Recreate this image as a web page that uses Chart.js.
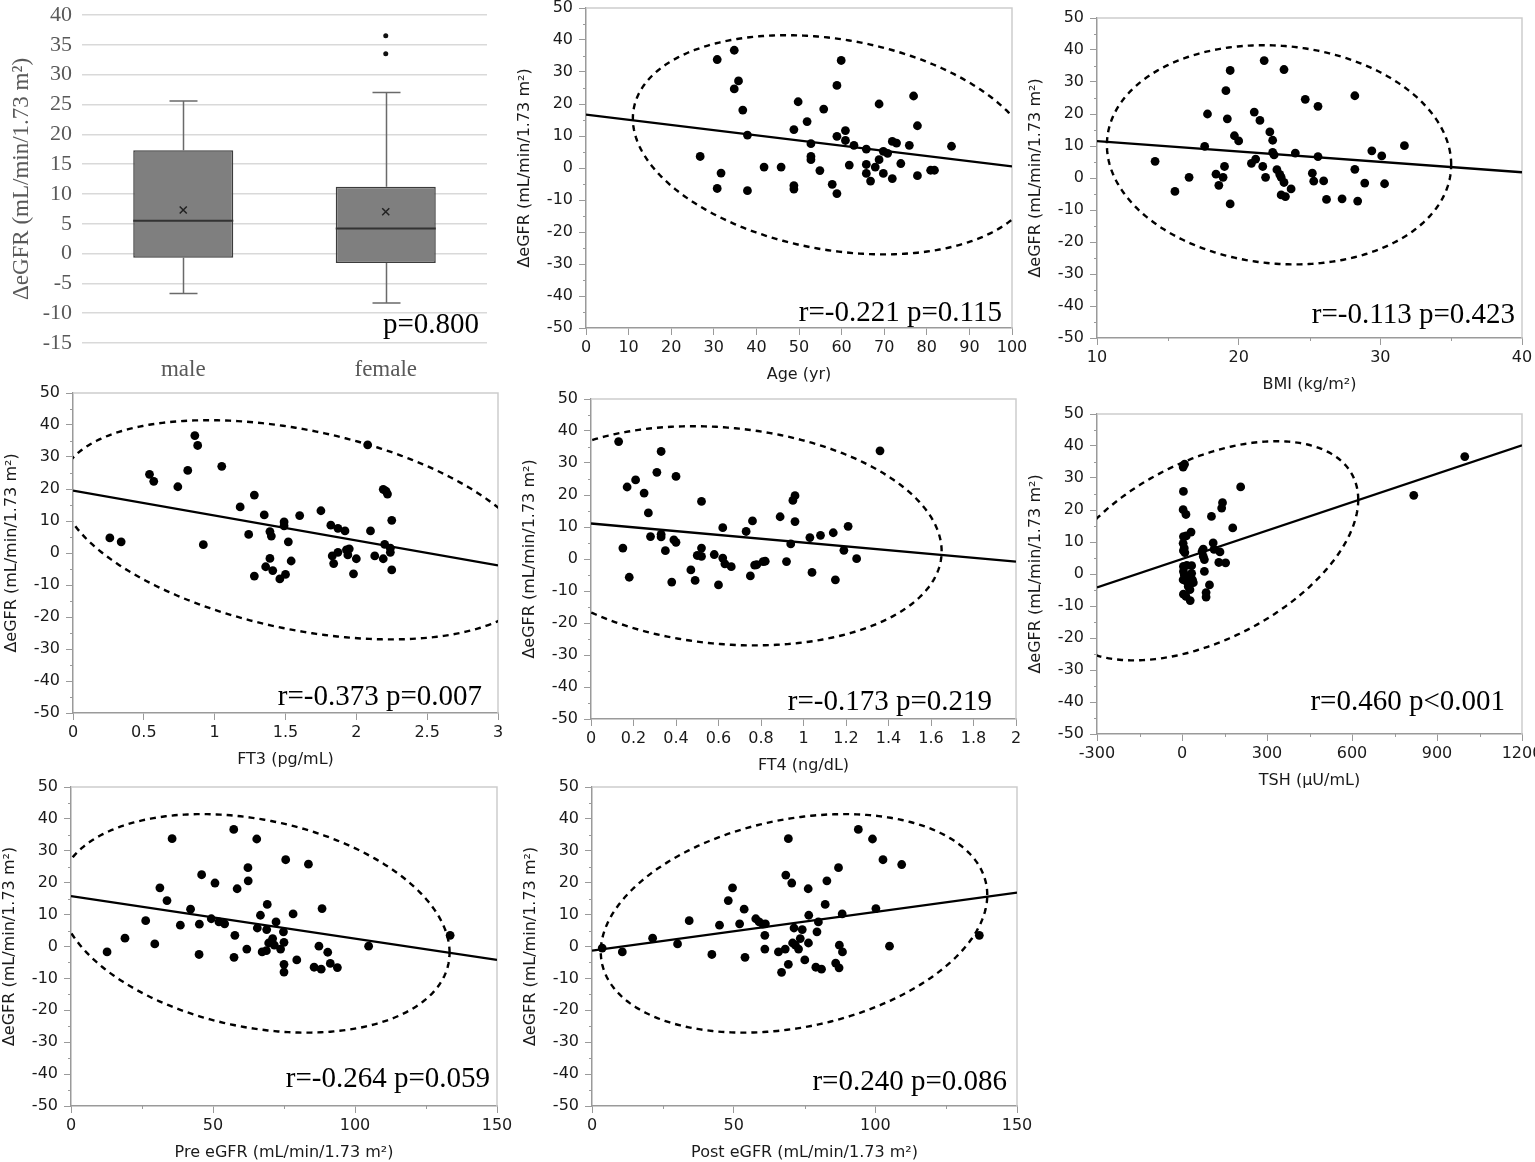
<!DOCTYPE html>
<html>
<head>
<meta charset="utf-8">
<title>ΔeGFR vs clinical parameters</title>
<script src="https://cdn.jsdelivr.net/npm/chart.js@4.4.0/dist/chart.umd.min.js"></script>
<style>
  html, body { margin: 0; padding: 0; background: #fff; }
  body { width: 1535px; height: 1162px; overflow: hidden; position: relative; }
  canvas { position: absolute; }
</style>
</head>
<body>
<script>
// ---- box plot: ΔeGFR by sex ----
const sexLabels = ['male', 'female'];
const boxMin = [-6.7, -8.3];
const boxQ1 = [-0.7, -1.6];
const boxMedian = [5.5, 4.2];
const boxQ3 = [17.3, 11.2];
const boxMax = [25.6, 27.0];
const boxMean = [7.3, 7.0];
const femaleOutliers = [33.5, 36.5];

// ---- scatter panels (x values, ΔeGFR values, fit line ends, 95% ellipse [cx, cy, rx, ry, cos(phase)]) ----
const ageX = [30.8,34.8,35.8,34.8,36.8,37.9,26.8,30.8,31.7,37.9,41.8,45.8,48.8,48.8,48.8,49.8,51.9,52.8,52.8,52.8,54.9,55.8,57.8,58.9,58.9,58.9,59.9,60.9,60.9,61.8,62.9,65.8,65.8,65.8,66.8,67.9,68.8,68.8,69.8,69.8,70.8,71.9,71.9,72.9,73.9,75.9,76.9,77.8,77.8,80.9,81.8,85.8];
const ageY = [33.9,36.8,27.2,24.7,18.1,10.3,3.6,-6.4,-1.6,-7.1,0.3,0.3,12.0,-5.5,-6.6,20.7,14.5,7.6,3.6,2.6,-0.8,18.4,-5.1,-8.0,25.8,9.9,33.6,11.7,8.6,0.9,7.1,5.9,1.1,-1.7,-4.1,0.3,20.0,2.6,5.2,-1.7,4.6,8.3,-3.3,7.8,1.4,7.1,22.5,13.2,-2.4,-0.7,-0.7,6.8];
const ageFit = [[0, 16.7], [100, 0.5]];
const ageEllipse = [58.5, 7.25, 47.5, 34.25, -0.24];

const bmiX = [14.1,15.5,16.5,17.6,17.8,18.4,18.6,18.9,19.0,19.1,19.2,19.4,19.4,19.7,20.0,20.9,21.1,21.2,21.5,21.7,21.8,21.9,22.2,22.4,22.4,22.5,22.7,22.9,23.0,23.0,23.2,23.2,23.3,23.7,24.0,24.7,25.2,25.3,25.6,25.6,26.0,26.2,27.3,28.2,28.2,28.4,28.9,29.4,30.1,30.3,31.7];
const bmiY = [5.2,-4.2,0.2,9.9,20.0,1.2,-2.3,0.2,3.6,27.3,18.5,33.6,-8.1,13.2,11.6,4.6,20.6,5.9,18.0,3.6,36.7,0.2,14.4,11.8,8.0,7.2,2.6,1.1,0.2,-5.3,-1.4,33.9,-5.8,-3.4,7.8,24.6,1.5,-1.0,22.4,6.7,-0.9,-6.7,-6.5,25.7,2.7,-7.2,-1.6,8.5,6.9,-1.8,10.1];
const bmiFit = [[10, 11.5], [40, 1.8]];
const bmiEllipse = [22.85, 7.25, 12.15, 34.25, -0.09];

const ft3X = [0.26,0.34,0.54,0.57,0.74,0.81,0.86,0.88,0.92,1.05,1.18,1.24,1.28,1.28,1.35,1.36,1.39,1.39,1.40,1.41,1.46,1.49,1.49,1.50,1.52,1.54,1.60,1.75,1.82,1.83,1.84,1.87,1.87,1.92,1.93,1.94,1.95,1.98,2.00,2.08,2.10,2.13,2.19,2.19,2.20,2.21,2.22,2.24,2.24,2.25,2.25];
const ft3Y = [4.7,3.5,24.6,22.4,20.7,25.8,36.7,33.6,2.6,27.1,14.4,5.8,18.1,-7.2,11.9,-4.3,6.7,-1.7,5.3,-5.5,-8.1,9.7,8.5,-6.7,3.5,-2.5,11.7,13.2,8.7,-0.9,-3.3,7.7,0.2,6.9,1.0,-0.6,1.3,-6.5,-1.8,33.8,6.9,-0.9,19.9,-1.8,2.7,19.3,18.4,0.2,1.5,10.2,-5.3];
const ft3Fit = [[0, 19.5], [3, -3.9]];
const ft3Ellipse = [1.6, 7.25, 1.69, 34.25, -0.38];

const ft4X = [0.13,0.15,0.17,0.18,0.21,0.25,0.27,0.28,0.31,0.33,0.33,0.33,0.35,0.38,0.39,0.40,0.40,0.47,0.49,0.50,0.52,0.52,0.52,0.58,0.60,0.62,0.62,0.63,0.66,0.73,0.75,0.76,0.77,0.78,0.81,0.82,0.89,0.92,0.94,0.95,0.96,0.96,1.03,1.04,1.08,1.14,1.15,1.19,1.21,1.25,1.36];
const ft4Y = [36.7,3.4,22.5,-5.7,24.7,20.6,14.4,7.0,27.1,33.6,7.7,6.9,2.6,-7.2,6.0,25.8,5.2,-3.4,-6.7,1.1,18.0,3.4,0.8,1.4,-8.1,9.8,0.3,-1.5,-2.4,8.6,-5.3,11.9,-1.9,-1.8,-0.8,-0.7,13.2,-0.8,4.7,18.3,19.8,11.7,6.7,-4.2,7.4,8.2,-6.5,2.7,10.2,0.1,33.8];
const ft4Fit = [[0, 11.1], [2, -0.8]];
const ft4Ellipse = [0.625, 7.25, 1.025, 34.25, -0.141];

const tshX = [4,9,5,4,14,32,5,15,4,8,10,5,75,71,75,79,110,113,134,130,154,104,143,140,179,207,5,17,34,5,8,22,34,4,20,37,79,97,22,28,5,14,29,85,85,12,40,818,998];
const tshY = [33.4,34.3,25.8,20.1,18.6,13.1,11.7,11.9,9.6,8.1,6.7,7.3,7.8,7.1,5.5,4.5,9.7,7.7,6.9,3.6,3.5,18.0,22.3,20.6,14.4,27.2,2.4,2.7,2.6,0.8,-0.2,-0.8,0.2,-1.8,-2.8,-1.8,0.8,-3.4,-3.9,-4.9,-6.3,-7.0,-8.3,-5.8,-7.2,-1.3,-2.7,24.6,36.7];
const tshFit = [[-300, -4.2], [1200, 40.2]];
const tshEllipse = [81.5, 7.25, 540.5, 34.25, 0.467];

const preX = [12.7,19.0,26.3,29.5,31.3,33.8,35.6,38.5,42.1,45.2,45.1,46.0,49.4,50.7,52.1,54.1,57.3,57.7,57.4,58.5,61.9,62.3,62.4,65.4,65.6,66.7,67.3,68.8,68.9,69.1,69.6,71.0,71.6,72.2,73.8,74.8,75.0,75.0,75.0,75.6,78.2,79.5,83.6,85.6,87.3,88.1,88.4,90.4,91.3,93.8,104.8,133.5];
const preY = [-1.7,2.6,8.1,0.8,18.4,14.4,33.8,6.7,11.7,7.0,-2.5,22.5,8.7,19.9,7.7,7.1,36.7,3.5,-3.4,18.1,-0.8,24.7,20.6,33.7,5.8,9.8,-1.7,-1.3,5.3,13.2,1.1,2.5,0.4,7.7,-0.8,4.6,1.3,-5.6,-8.0,27.2,10.2,-4.2,25.8,-6.5,0.1,-7.1,11.9,-1.8,-5.3,-6.6,0.1,3.5];
const preFit = [[0, 15.8], [150, -4.2]];
const preEllipse = [64.5, 7.25, 68.8, 34.25, -0.267];

const postX = [3.6,10.7,21.4,30.2,34.3,42.3,45.0,48.1,49.6,52.1,53.7,54.0,57.8,59.0,60.3,61.0,61.0,61.2,65.8,66.9,68.2,68.4,69.3,69.3,70.5,70.8,71.3,71.8,72.9,73.5,74.2,75.1,76.3,76.4,76.5,79.0,79.4,79.9,81.0,82.3,82.9,86.0,87.0,87.3,87.2,88.4,88.3,94.0,99.0,100.2,102.7,105.0,109.3,136.7];
const postY = [-0.5,-1.7,2.6,0.8,8.1,-2.5,6.7,14.4,18.4,7.1,11.7,-3.4,8.7,7.7,7.0,3.5,-0.8,7.1,-1.7,-8.1,-0.8,22.4,33.8,-5.6,19.9,1.1,5.8,0.4,-0.8,2.5,5.3,-4.2,18.1,1.1,9.8,-6.5,4.6,7.7,-7.1,13.2,20.6,-5.2,24.7,0.4,-6.7,-1.7,10.2,36.7,33.7,11.9,27.2,0.1,25.7,3.5];
const postFit = [[0, -1.3], [150, 16.9]];
const postEllipse = [71.3, 7.25, 68.2, 34.25, 0.26];

const yTitle = 'ΔeGFR (mL/min/1.73 m²)';
const SANS = '"DejaVu Sans", Verdana, sans-serif';
const SERIF = '"Liberation Serif", "Times New Roman", serif';

// panel layout: plot area [left, top, width, height] in page pixels, stat text offsets [fromRight, fromBottom]
const panels = [
  { xs: ageX, ys: ageY, fit: ageFit, ell: ageEllipse, xTitle: 'Age (yr)', xMin: 0, xMax: 100, xStep: 10, minor: 0,
    stat: 'r=-0.221 p=0.115', area: [586, 8, 426, 320], txt: [10, 7] },
  { xs: bmiX, ys: bmiY, fit: bmiFit, ell: bmiEllipse, xTitle: 'BMI (kg/m²)', xMin: 10, xMax: 40, xStep: 10, minor: 5,
    stat: 'r=-0.113 p=0.423', area: [1097, 18, 425, 320], txt: [7, 15] },
  { xs: ft3X, ys: ft3Y, fit: ft3Fit, ell: ft3Ellipse, xTitle: 'FT3 (pg/mL)', xMin: 0, xMax: 3, xStep: 0.5, minor: 0,
    stat: 'r=-0.373 p=0.007', area: [73, 393, 425, 320], txt: [16, 8] },
  { xs: ft4X, ys: ft4Y, fit: ft4Fit, ell: ft4Ellipse, xTitle: 'FT4 (ng/dL)', xMin: 0, xMax: 2, xStep: 0.2, minor: 0,
    stat: 'r=-0.173 p=0.219', area: [591, 399, 425, 320], txt: [24, 9] },
  { xs: tshX, ys: tshY, fit: tshFit, ell: tshEllipse, xTitle: 'TSH (µU/mL)', xMin: -300, xMax: 1200, xStep: 300, minor: 150,
    stat: 'r=0.460 p<0.001', area: [1097, 414, 425, 320], txt: [17, 24] },
  { xs: preX, ys: preY, fit: preFit, ell: preEllipse, xTitle: 'Pre eGFR (mL/min/1.73 m²)', xMin: 0, xMax: 150, xStep: 50, minor: 25,
    stat: 'r=-0.264 p=0.059', area: [71, 787, 426, 319], txt: [7, 19] },
  { xs: postX, ys: postY, fit: postFit, ell: postEllipse, xTitle: 'Post eGFR (mL/min/1.73 m²)', xMin: 0, xMax: 150, xStep: 50, minor: 25,
    stat: 'r=0.240 p=0.086', area: [592, 787, 425, 319], txt: [10, 16] }
];

// dashed confidence ellipse, clipped to the plot
const ellipsePlugin = {
  id: 'ellipse',
  beforeDatasetsDraw(chart, args, opts) {
    if (!opts.e) return;
    const [cx, cy, rx, ry, c] = opts.e;
    const d = Math.acos(c);
    const { ctx, chartArea: a, scales: { x, y } } = chart;
    ctx.save();
    ctx.beginPath();
    ctx.rect(a.left, a.top, a.width, a.height);
    ctx.clip();
    ctx.beginPath();
    for (let i = 0; i <= 360; i++) {
      const t = i * Math.PI / 180;
      const px = x.getPixelForValue(cx + rx * Math.cos(t));
      const py = y.getPixelForValue(cy + ry * Math.cos(t - d));
      if (i === 0) ctx.moveTo(px, py); else ctx.lineTo(px, py);
    }
    ctx.setLineDash([6, 5]);
    ctx.lineWidth = 2.4;
    ctx.strokeStyle = '#000';
    ctx.stroke();
    ctx.restore();
  }
};

// light top/right frame of the plot box
const framePlugin = {
  id: 'frame',
  beforeDatasetsDraw(chart) {
    const { ctx, chartArea: a } = chart;
    ctx.save();
    ctx.strokeStyle = '#cdcdcd';
    ctx.lineWidth = 1.5;
    ctx.beginPath();
    ctx.moveTo(a.left, a.top);
    ctx.lineTo(a.right, a.top);
    ctx.lineTo(a.right, a.bottom);
    ctx.stroke();
    ctx.restore();
  }
};

// short unlabelled ticks between the major ones
const minorPlugin = {
  id: 'minor',
  afterDraw(chart, args, opts) {
    const { ctx, chartArea: a, scales: { x, y } } = chart;
    ctx.save();
    ctx.strokeStyle = '#9a9a9a';
    ctx.lineWidth = 1;
    ctx.beginPath();
    if (opts.y) {
      for (let v = y.min + opts.y; v < y.max; v += 2 * opts.y) {
        const p = Math.round(y.getPixelForValue(v)) + 0.5;
        ctx.moveTo(a.left - 3, p); ctx.lineTo(a.left, p);
      }
    }
    if (opts.x) {
      for (let v = x.min + opts.x; v < x.max; v += 2 * opts.x) {
        const p = Math.round(x.getPixelForValue(v)) + 0.5;
        ctx.moveTo(p, a.bottom); ctx.lineTo(p, a.bottom + 3);
      }
    }
    ctx.stroke();
    ctx.restore();
  }
};

// r / p annotation
const statPlugin = {
  id: 'stat',
  afterDraw(chart, args, opts) {
    if (!opts.text) return;
    const { ctx, chartArea: a } = chart;
    ctx.save();
    ctx.font = '29px ' + SERIF;
    ctx.fillStyle = '#000';
    ctx.textAlign = 'right';
    ctx.textBaseline = 'alphabetic';
    ctx.fillText(opts.text, a.right - opts.dx, a.bottom - opts.dy);
    ctx.restore();
  }
};

function addCanvas(left, top, w, h) {
  const c = document.createElement('canvas');
  c.width = w;
  c.height = h;
  c.style.left = left + 'px';
  c.style.top = top + 'px';
  c.style.width = w + 'px';
  c.style.height = h + 'px';
  document.body.appendChild(c);
  return c;
}

const Y_W = 71, X_H = 56, PAD_T = 12, PAD_R = 18;

function makeScatter(p) {
  const [L, T, W, H] = p.area;
  const cv = addCanvas(L - Y_W, T - PAD_T, W + Y_W + PAD_R, H + PAD_T + X_H);
  new Chart(cv, {
    type: 'scatter',
    data: {
      datasets: [
        {
          data: p.xs.map((v, i) => ({ x: v, y: p.ys[i] })),
          backgroundColor: '#000',
          borderWidth: 0,
          pointRadius: 4.4,
          pointHoverRadius: 4.4
        },
        {
          data: p.fit.map(d => ({ x: d[0], y: d[1] })),
          showLine: true,
          borderColor: '#000',
          borderWidth: 2.3,
          pointRadius: 0
        }
      ]
    },
    options: {
      responsive: false,
      animation: false,
      events: [],
      layout: { padding: { left: 0, top: PAD_T, right: PAD_R, bottom: 0 } },
      plugins: {
        legend: { display: false },
        tooltip: { enabled: false },
        ellipse: { e: p.ell },
        minor: { y: 5, x: p.minor },
        stat: { text: p.stat, dx: p.txt[0], dy: p.txt[1] }
      },
      scales: {
        x: {
          type: 'linear',
          min: p.xMin,
          max: p.xMax,
          afterFit(s) { s.height = X_H; s.paddingLeft = s.paddingRight = s.paddingTop = s.paddingBottom = 0; },
          border: { color: '#9a9a9a', width: 1.5 },
          grid: { drawOnChartArea: false, tickLength: 7, color: '#9a9a9a' },
          ticks: {
            stepSize: p.xStep,
            padding: 3,
            maxRotation: 0,
            autoSkip: false,
            color: '#1a1a1a',
            font: { family: SANS, size: 16 },
            callback: v => String(+v.toFixed(2))
          },
          title: { display: true, text: p.xTitle, color: '#1a1a1a', padding: 0, font: { family: SANS, size: 16 } }
        },
        y: {
          min: -50,
          max: 50,
          afterFit(s) { s.width = Y_W; s.paddingLeft = s.paddingRight = s.paddingTop = s.paddingBottom = 0; },
          border: { color: '#9a9a9a', width: 1.5 },
          grid: { drawOnChartArea: false, tickLength: 7, color: '#9a9a9a' },
          ticks: {
            stepSize: 10,
            padding: 6,
            color: '#1a1a1a',
            font: { family: SANS, size: 16 }
          },
          title: { display: true, text: yTitle, color: '#1a1a1a', padding: 0, font: { family: SANS, size: 16 } }
        }
      }
    },
    plugins: [framePlugin, ellipsePlugin, minorPlugin, statPlugin]
  });
}

// whiskers, caps and median lines for the box plot
const whiskerPlugin = {
  id: 'whiskers',
  beforeDatasetsDraw(chart) {
    const { ctx, scales: { x, y } } = chart;
    ctx.save();
    ctx.strokeStyle = '#6a6a6a';
    ctx.lineWidth = 1.5;
    ctx.beginPath();
    sexLabels.forEach((lab, i) => {
      const cx = Math.round(x.getPixelForValue(i)) + 0.5;
      ctx.moveTo(cx, y.getPixelForValue(boxQ3[i]));
      ctx.lineTo(cx, y.getPixelForValue(boxMax[i]));
      ctx.moveTo(cx, y.getPixelForValue(boxQ1[i]));
      ctx.lineTo(cx, y.getPixelForValue(boxMin[i]));
      [boxMax[i], boxMin[i]].forEach(v => {
        const py = y.getPixelForValue(v);
        ctx.moveTo(cx - 14, py);
        ctx.lineTo(cx + 14, py);
      });
    });
    ctx.stroke();
    ctx.restore();
  },
  afterDatasetsDraw(chart) {
    const { ctx, scales: { y } } = chart;
    const bars = chart.getDatasetMeta(2).data;
    ctx.save();
    ctx.strokeStyle = '#333';
    ctx.lineWidth = 2;
    ctx.beginPath();
    bars.forEach((b, i) => {
      const py = y.getPixelForValue(boxMedian[i]);
      ctx.moveTo(b.x - b.width / 2, py);
      ctx.lineTo(b.x + b.width / 2, py);
    });
    ctx.stroke();
    ctx.font = '29px ' + SERIF;
    ctx.fillStyle = '#000';
    ctx.textAlign = 'right';
    ctx.fillText('p=0.800', 479, 333);
    ctx.restore();
  }
};

const boxCanvas = addCanvas(0, 0, 495, 393);
new Chart(boxCanvas, {
  type: 'bar',
  data: {
    labels: sexLabels,
    datasets: [
      {
        type: 'line',
        data: boxMean,
        showLine: false,
        pointStyle: 'crossRot',
        pointRadius: 5,
        borderColor: '#222',
        borderWidth: 1.5
      },
      {
        type: 'line',
        data: femaleOutliers.map(v => ({ x: 'female', y: v })),
        showLine: false,
        pointRadius: 2.5,
        backgroundColor: '#111',
        borderWidth: 0
      },
      {
        type: 'bar',
        data: sexLabels.map((_, i) => [boxQ1[i], boxQ3[i]]),
        backgroundColor: '#7f7f7f',
        borderColor: '#3c3c3c',
        borderWidth: 1.5,
        borderSkipped: false,
        barPercentage: 0.494,
        categoryPercentage: 1
      }
    ]
  },
  options: {
    responsive: false,
    animation: false,
    events: [],
    layout: { padding: { left: 0, top: 15, right: 8, bottom: 0 } },
    plugins: { legend: { display: false }, tooltip: { enabled: false } },
    scales: {
      x: {
        afterFit(s) { s.height = 50; s.paddingLeft = s.paddingRight = s.paddingTop = s.paddingBottom = 0; },
        grid: { display: false },
        border: { display: false },
        ticks: { padding: 5, color: '#595959', font: { family: SERIF, size: 23 } }
      },
      y: {
        min: -15,
        max: 40,
        afterFit(s) { s.width = 82; s.paddingLeft = s.paddingRight = s.paddingTop = s.paddingBottom = 0; },
        grid: { color: '#d9d9d9', lineWidth: 1.5, drawTicks: false },
        border: { display: false },
        ticks: { stepSize: 5, padding: 10, color: '#595959', font: { family: SERIF, size: 22 } },
        title: {
          display: true,
          text: 'ΔeGFR (mL/min/1.73 m²)',
          color: '#595959',
          padding: { top: 8, bottom: 0 },
          font: { family: SERIF, size: 23 }
        }
      }
    }
  },
  plugins: [whiskerPlugin]
});

panels.forEach(makeScatter);
</script>
</body>
</html>
